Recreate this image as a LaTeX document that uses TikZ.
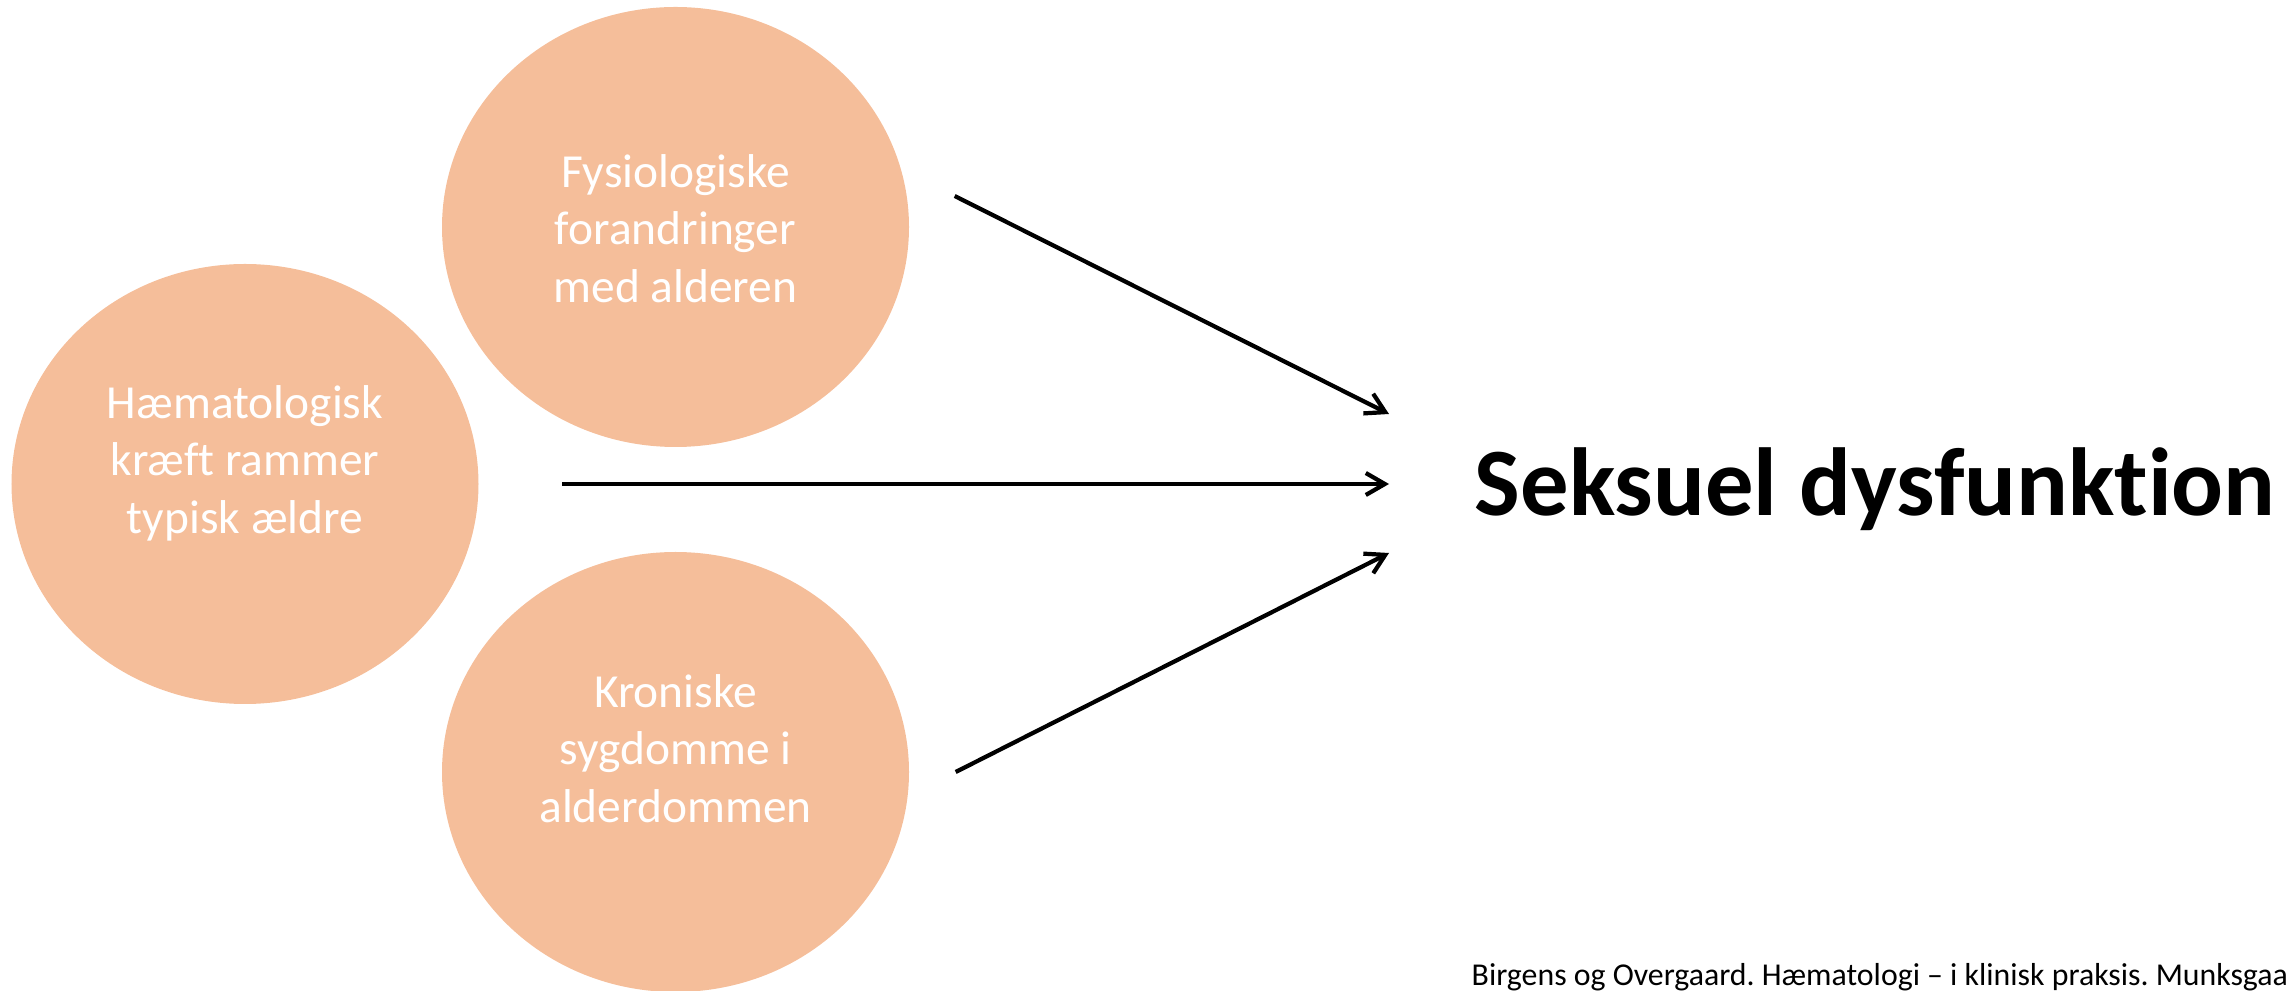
\documentclass[tikz,border=0pt]{standalone}
\usepackage{fontspec}
\setmainfont{Carlito}[Ligatures={NoCommon,NoDiscretionary}]
\usetikzlibrary{arrows.meta,shapes.geometric,positioning}
\definecolor{peach}{HTML}{F5BE9A}
\newcommand{\bubbletext}[2]{\raisebox{#1}[0pt][0pt]{\begin{tabular}{@{}c@{}}#2\end{tabular}}}
\frenchspacing

\begin{document}
\begin{tikzpicture}[>={Straight Barb[length=0.19cm,width=0.22cm]},
  bubble/.style={ellipse,fill=peach,minimum width=4.67cm,minimum height=4.40cm,
    inner sep=0pt,text=white,font=\fontsize{13.5}{16.35}\selectfont},
  link/.style={->,line width=1.2pt},
  headline/.style={inner sep=0pt,font=\fontsize{27.5}{33}\selectfont\bfseries},
  source/.style={inner sep=0pt,font=\fontsize{9.05}{11}\selectfont}]
  \useasboundingbox (0,0) rectangle (22.95,9.90);
  \node[bubble] (fys) at (6.755,7.63) {\bubbletext{-0.19cm}{Fysiologiske\\forandringer\\med alderen}};
  \node[bubble] (haem) at (2.45,5.06) {\bubbletext{0.07cm}{Hæmatologisk\\kræft rammer\\typisk ældre}};
  \node[bubble] (kron) at (6.755,2.18) {\bubbletext{0.06cm}{Kroniske\\sygdomme i\\alderdommen}};
  \coordinate (goal) at (13.89,5.06);
  \node[headline,anchor=base west] (sd) at ([xshift=0.85cm,yshift=-0.32cm]goal) {Seksuel dysfunktion};
  \draw[link] ([shift={(0.45,0.31)}]fys.east) -- ([yshift=0.70cm]goal);
  \draw[link] ([xshift=0.83cm]haem.east) -- (goal);
  \draw[link] ([xshift=0.46cm]kron.east) -- ([yshift=-0.69cm]goal);
  \node[source,anchor=base west] (src) at (14.71,0.05) {Birgens og Overgaard. Hæmatologi – i klinisk praksis. Munksgaa};
\end{tikzpicture}
\end{document}
